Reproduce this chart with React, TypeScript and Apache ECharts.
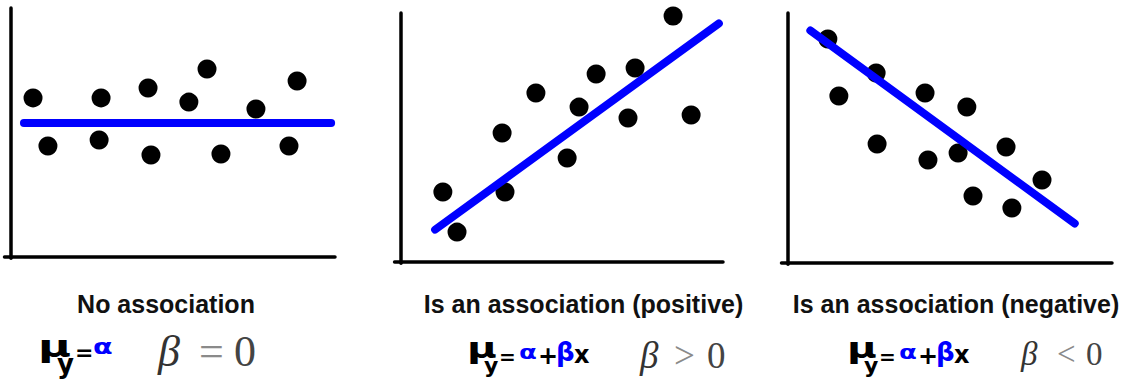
import React, { useEffect, useRef } from "react";
import * as echarts from "echarts";

// ---- data (axis units 0..10) ----
const noAssocX = [0.68, 1.14, 2.78, 2.72, 4.23, 4.32, 5.49, 6.05, 6.48, 7.56, 8.83, 8.58];
const noAssocY = [6.39, 4.46, 6.39, 4.70, 6.79, 4.10, 6.22, 7.55, 4.14, 5.94, 7.07, 4.46];
const noAssocLineX = [0.4, 9.88];
const noAssocLineY = [5.38, 5.38];

const posX = [1.30, 1.74, 3.23, 3.14, 4.19, 5.16, 5.53, 6.06, 7.05, 7.27, 8.45, 9.01];
const posY = [2.81, 1.20, 2.81, 5.18, 6.79, 4.18, 6.22, 7.55, 5.78, 7.79, 9.88, 5.90];
const posLineX = [1.06, 9.87];
const posLineY = [1.30, 9.58];

const negX = [1.23, 1.57, 2.72, 2.75, 4.23, 4.32, 5.25, 5.52, 5.71, 6.73, 6.91, 7.84];
const negY = [8.96, 6.68, 7.60, 4.76, 6.80, 4.12, 4.40, 6.24, 2.68, 4.64, 2.20, 3.32];
const negLineX = [0.69, 8.85];
const negLineY = [9.30, 1.58];

const titles = ["No association", "Is an association (positive)", "Is an association (negative)"];
const relations = ["=", ">", "<"];

const BLUE = "#0000ff";

const zip = (xs: number[], ys: number[]) => xs.map((x, i) => [x, ys[i]]);

export default function App() {
  const ref = useRef<HTMLDivElement>(null);
  useEffect(() => {
    if (!ref.current) return;
    const chart = echarts.init(ref.current, undefined, { renderer: "svg" });

    const panels = [
      { ox: 11, oy: 257, sx: 32.4, sy: 24.9 },
      { ox: 401, oy: 262, sx: 32.2, sy: 24.9 },
      { ox: 788, oy: 263, sx: 32.4, sy: 25 },
    ];
    const xmin = -0.2;
    const ymin = -0.05;
    const grid = panels.map((p) => ({
      left: p.ox + xmin * p.sx,
      top: p.oy - 10 * p.sy,
      width: (10 - xmin) * p.sx,
      height: (10 - ymin) * p.sy,
    }));
    const axisCommon = {
      type: "value",
      max: 10,
      axisLine: { show: true, onZero: true, lineStyle: { color: "#000", width: 3.5 } },
      axisTick: { show: false },
      axisLabel: { show: false },
      splitLine: { show: false },
    };
    const xAxis = panels.map((_, i) => ({ ...axisCommon, gridIndex: i, min: xmin }));
    const yAxis = panels.map((_, i) => ({ ...axisCommon, gridIndex: i, min: ymin }));

    const pts = [zip(noAssocX, noAssocY), zip(posX, posY), zip(negX, negY)];
    const lines = [
      zip(noAssocLineX, noAssocLineY),
      zip(posLineX, posLineY),
      zip(negLineX, negLineY),
    ];
    const series: any[] = [];
    pts.forEach((d, i) => {
      series.push({
        type: "scatter",
        xAxisIndex: i,
        yAxisIndex: i,
        data: d,
        symbolSize: 19,
        itemStyle: { color: "#000", opacity: 1 },
        z: 2,
      });
      series.push({
        type: "line",
        xAxisIndex: i,
        yAxisIndex: i,
        data: lines[i],
        showSymbol: false,
        symbol: "none",
        clip: false,
        lineStyle: { color: BLUE, width: 8, cap: "round", opacity: 1 },
        z: 3,
      });
    });

    const SANS = "'DejaVu Sans', sans-serif";
    const SERIF = "'Liberation Serif', 'Times New Roman', serif";
    const txt = (
      text: string,
      x: number,
      baseline: number,
      size: number,
      color: string,
      opts: any = {}
    ) => ({
      type: "text",
      x,
      y: baseline - 0.345 * size,
      scaleX: opts.scaleX || 1,
      style: {
        text,
        fill: color,
        font: `${opts.italic ? "italic " : ""}${opts.bold === false ? "normal" : "bold"} ${size}px ${opts.family || SANS}`,
        align: "left",
        verticalAlign: "middle",
      },
    });
    const mid = (
      text: string,
      x: number,
      middle: number,
      size: number,
      color: string,
      opts: any = {}
    ) => txt(text, x, middle + 0.345 * size, size, color, opts);

    const graphics: any[] = [];
    // titles
    const titleX = [166, 583.5, 956];
    titles.forEach((t, i) => {
      graphics.push({
        type: "text",
        x: titleX[i],
        y: 304,
        style: {
          text: t,
          fill: "#111",
          font: "bold 25px 'Liberation Sans', Arial, sans-serif",
          align: "center",
          verticalAlign: "middle",
        },
      });
    });

    // panel 1 handwritten formula
    graphics.push(txt("μ", 38, 357, 30, "#000", { scaleX: 1.5 }));
    graphics.push(txt("y", 57, 373, 26, "#000"));
    graphics.push(mid("=", 75, 352.5, 22, "#000"));
    graphics.push(txt("α", 93, 354, 22, BLUE, { scaleX: 1.3 }));

    // panels 2 & 3 handwritten formula
    [468, 848].forEach((x0) => {
      graphics.push(txt("μ", x0 - 1, 358, 28, "#000", { scaleX: 1.45 }));
      graphics.push(txt("y", x0 + 16, 373, 22, "#000"));
      graphics.push(mid("=", x0 + 31, 356.5, 20, "#000"));
      graphics.push(txt("α", x0 + 51, 358.5, 20, BLUE, { scaleX: 1.3 }));
      graphics.push(mid("+", x0 + 70, 355.5, 24, "#000"));
      graphics.push(txt("β", x0 + 88, 361, 26, BLUE));
      graphics.push(txt("x", x0 + 106, 363, 24, "#000"));
    });

    // gray typeset parts
    const gray = [
      { b: 158, r: 199, z: 234, base: 367, size: 44 },
      { b: 640, r: 674, z: 707, base: 368, size: 37 },
      { b: 1021, r: 1057, z: 1086, base: 365, size: 33 },
    ];
    gray.forEach((g, i) => {
      graphics.push(txt("β", g.b, g.base, g.size, "#333", { italic: true, bold: false, family: SERIF }));
      graphics.push(txt(relations[i], g.r, g.base, g.size, "#8a8a8a", { bold: false, family: SERIF }));
      graphics.push(txt("0", g.z, g.base, g.size, "#444", { bold: false, family: SERIF }));
    });

    chart.setOption({
      animation: false,
      backgroundColor: "#fff",
      grid,
      xAxis,
      yAxis,
      series,
      graphic: graphics,
    });
    return () => chart.dispose();
  }, []);
  return (
    <div
      ref={ref}
      style={{ position: "absolute", left: 0, top: 0, width: 1123, height: 383 }}
    />
  );
}
